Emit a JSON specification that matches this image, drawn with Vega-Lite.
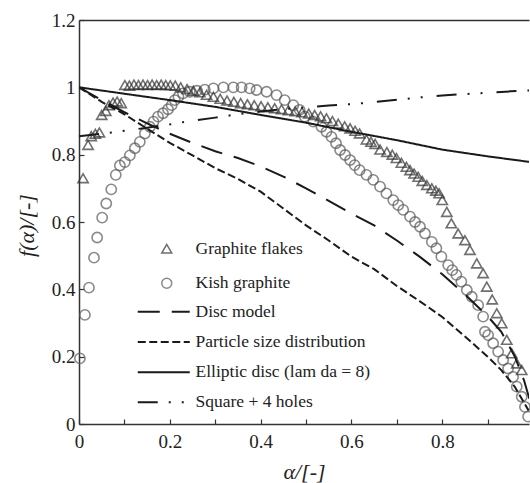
{
  "$schema": "https://vega.github.io/schema/vega-lite/v6.json",
  "autosize": {"type": "none"},
  "padding": {"left": 79, "top": 20, "right": 1, "bottom": 59},
  "width": 450,
  "height": 404,
  "background": "white",
  "config": {
    "view": {"stroke": null},
    "font": "Liberation Serif",
    "axis": {"labelFont": "Liberation Serif", "titleFont": "Liberation Serif"},
    "legend": {"labelFont": "Liberation Serif"}
  },
  "datasets": {
    "points": [
      {"x": 0.002, "y": 0.195, "series": "Kish graphite"},
      {"x": 0.013, "y": 0.324, "series": "Kish graphite"},
      {"x": 0.022, "y": 0.405, "series": "Kish graphite"},
      {"x": 0.033, "y": 0.494, "series": "Kish graphite"},
      {"x": 0.040, "y": 0.554, "series": "Kish graphite"},
      {"x": 0.051, "y": 0.613, "series": "Kish graphite"},
      {"x": 0.060, "y": 0.655, "series": "Kish graphite"},
      {"x": 0.071, "y": 0.697, "series": "Kish graphite"},
      {"x": 0.081, "y": 0.740, "series": "Kish graphite"},
      {"x": 0.090, "y": 0.768, "series": "Kish graphite"},
      {"x": 0.101, "y": 0.778, "series": "Kish graphite"},
      {"x": 0.112, "y": 0.798, "series": "Kish graphite"},
      {"x": 0.123, "y": 0.819, "series": "Kish graphite"},
      {"x": 0.134, "y": 0.838, "series": "Kish graphite"},
      {"x": 0.145, "y": 0.863, "series": "Kish graphite"},
      {"x": 0.156, "y": 0.883, "series": "Kish graphite"},
      {"x": 0.164, "y": 0.898, "series": "Kish graphite"},
      {"x": 0.174, "y": 0.913, "series": "Kish graphite"},
      {"x": 0.185, "y": 0.923, "series": "Kish graphite"},
      {"x": 0.196, "y": 0.935, "series": "Kish graphite"},
      {"x": 0.204, "y": 0.947, "series": "Kish graphite"},
      {"x": 0.211, "y": 0.962, "series": "Kish graphite"},
      {"x": 0.219, "y": 0.972, "series": "Kish graphite"},
      {"x": 0.229, "y": 0.982, "series": "Kish graphite"},
      {"x": 0.244, "y": 0.987, "series": "Kish graphite"},
      {"x": 0.260, "y": 0.990, "series": "Kish graphite"},
      {"x": 0.277, "y": 0.993, "series": "Kish graphite"},
      {"x": 0.296, "y": 0.997, "series": "Kish graphite"},
      {"x": 0.318, "y": 1.000, "series": "Kish graphite"},
      {"x": 0.340, "y": 1.000, "series": "Kish graphite"},
      {"x": 0.358, "y": 1.000, "series": "Kish graphite"},
      {"x": 0.376, "y": 0.997, "series": "Kish graphite"},
      {"x": 0.391, "y": 0.992, "series": "Kish graphite"},
      {"x": 0.413, "y": 0.987, "series": "Kish graphite"},
      {"x": 0.435, "y": 0.977, "series": "Kish graphite"},
      {"x": 0.453, "y": 0.962, "series": "Kish graphite"},
      {"x": 0.472, "y": 0.947, "series": "Kish graphite"},
      {"x": 0.486, "y": 0.933, "series": "Kish graphite"},
      {"x": 0.497, "y": 0.913, "series": "Kish graphite"},
      {"x": 0.516, "y": 0.898, "series": "Kish graphite"},
      {"x": 0.534, "y": 0.883, "series": "Kish graphite"},
      {"x": 0.545, "y": 0.868, "series": "Kish graphite"},
      {"x": 0.556, "y": 0.853, "series": "Kish graphite"},
      {"x": 0.566, "y": 0.834, "series": "Kish graphite"},
      {"x": 0.575, "y": 0.814, "series": "Kish graphite"},
      {"x": 0.586, "y": 0.799, "series": "Kish graphite"},
      {"x": 0.597, "y": 0.784, "series": "Kish graphite"},
      {"x": 0.607, "y": 0.769, "series": "Kish graphite"},
      {"x": 0.618, "y": 0.754, "series": "Kish graphite"},
      {"x": 0.633, "y": 0.740, "series": "Kish graphite"},
      {"x": 0.648, "y": 0.725, "series": "Kish graphite"},
      {"x": 0.663, "y": 0.705, "series": "Kish graphite"},
      {"x": 0.677, "y": 0.685, "series": "Kish graphite"},
      {"x": 0.692, "y": 0.665, "series": "Kish graphite"},
      {"x": 0.703, "y": 0.650, "series": "Kish graphite"},
      {"x": 0.714, "y": 0.636, "series": "Kish graphite"},
      {"x": 0.729, "y": 0.616, "series": "Kish graphite"},
      {"x": 0.740, "y": 0.600, "series": "Kish graphite"},
      {"x": 0.751, "y": 0.586, "series": "Kish graphite"},
      {"x": 0.762, "y": 0.566, "series": "Kish graphite"},
      {"x": 0.777, "y": 0.541, "series": "Kish graphite"},
      {"x": 0.787, "y": 0.522, "series": "Kish graphite"},
      {"x": 0.798, "y": 0.497, "series": "Kish graphite"},
      {"x": 0.813, "y": 0.472, "series": "Kish graphite"},
      {"x": 0.822, "y": 0.457, "series": "Kish graphite"},
      {"x": 0.831, "y": 0.443, "series": "Kish graphite"},
      {"x": 0.842, "y": 0.423, "series": "Kish graphite"},
      {"x": 0.854, "y": 0.398, "series": "Kish graphite"},
      {"x": 0.865, "y": 0.378, "series": "Kish graphite"},
      {"x": 0.879, "y": 0.353, "series": "Kish graphite"},
      {"x": 0.890, "y": 0.319, "series": "Kish graphite"},
      {"x": 0.894, "y": 0.274, "series": "Kish graphite"},
      {"x": 0.901, "y": 0.264, "series": "Kish graphite"},
      {"x": 0.912, "y": 0.240, "series": "Kish graphite"},
      {"x": 0.923, "y": 0.215, "series": "Kish graphite"},
      {"x": 0.934, "y": 0.190, "series": "Kish graphite"},
      {"x": 0.945, "y": 0.165, "series": "Kish graphite"},
      {"x": 0.956, "y": 0.140, "series": "Kish graphite"},
      {"x": 0.964, "y": 0.111, "series": "Kish graphite"},
      {"x": 0.975, "y": 0.081, "series": "Kish graphite"},
      {"x": 0.982, "y": 0.051, "series": "Kish graphite"},
      {"x": 0.989, "y": 0.022, "series": "Kish graphite"},
      {"x": 0.009, "y": 0.730, "series": "Graphite flakes"},
      {"x": 0.020, "y": 0.829, "series": "Graphite flakes"},
      {"x": 0.027, "y": 0.855, "series": "Graphite flakes"},
      {"x": 0.036, "y": 0.862, "series": "Graphite flakes"},
      {"x": 0.045, "y": 0.866, "series": "Graphite flakes"},
      {"x": 0.050, "y": 0.918, "series": "Graphite flakes"},
      {"x": 0.059, "y": 0.930, "series": "Graphite flakes"},
      {"x": 0.066, "y": 0.947, "series": "Graphite flakes"},
      {"x": 0.075, "y": 0.955, "series": "Graphite flakes"},
      {"x": 0.084, "y": 0.958, "series": "Graphite flakes"},
      {"x": 0.093, "y": 0.953, "series": "Graphite flakes"},
      {"x": 0.101, "y": 1.007, "series": "Graphite flakes"},
      {"x": 0.111, "y": 1.005, "series": "Graphite flakes"},
      {"x": 0.121, "y": 1.008, "series": "Graphite flakes"},
      {"x": 0.131, "y": 1.007, "series": "Graphite flakes"},
      {"x": 0.141, "y": 1.008, "series": "Graphite flakes"},
      {"x": 0.151, "y": 1.007, "series": "Graphite flakes"},
      {"x": 0.161, "y": 1.008, "series": "Graphite flakes"},
      {"x": 0.171, "y": 1.007, "series": "Graphite flakes"},
      {"x": 0.181, "y": 1.008, "series": "Graphite flakes"},
      {"x": 0.191, "y": 1.007, "series": "Graphite flakes"},
      {"x": 0.201, "y": 1.006, "series": "Graphite flakes"},
      {"x": 0.212, "y": 1.005, "series": "Graphite flakes"},
      {"x": 0.224, "y": 1.000, "series": "Graphite flakes"},
      {"x": 0.238, "y": 0.995, "series": "Graphite flakes"},
      {"x": 0.252, "y": 0.990, "series": "Graphite flakes"},
      {"x": 0.266, "y": 0.985, "series": "Graphite flakes"},
      {"x": 0.281, "y": 0.978, "series": "Graphite flakes"},
      {"x": 0.296, "y": 0.972, "series": "Graphite flakes"},
      {"x": 0.311, "y": 0.966, "series": "Graphite flakes"},
      {"x": 0.326, "y": 0.961, "series": "Graphite flakes"},
      {"x": 0.341, "y": 0.957, "series": "Graphite flakes"},
      {"x": 0.356, "y": 0.953, "series": "Graphite flakes"},
      {"x": 0.371, "y": 0.950, "series": "Graphite flakes"},
      {"x": 0.386, "y": 0.947, "series": "Graphite flakes"},
      {"x": 0.401, "y": 0.944, "series": "Graphite flakes"},
      {"x": 0.416, "y": 0.941, "series": "Graphite flakes"},
      {"x": 0.431, "y": 0.938, "series": "Graphite flakes"},
      {"x": 0.446, "y": 0.935, "series": "Graphite flakes"},
      {"x": 0.461, "y": 0.932, "series": "Graphite flakes"},
      {"x": 0.476, "y": 0.929, "series": "Graphite flakes"},
      {"x": 0.491, "y": 0.926, "series": "Graphite flakes"},
      {"x": 0.506, "y": 0.922, "series": "Graphite flakes"},
      {"x": 0.519, "y": 0.918, "series": "Graphite flakes"},
      {"x": 0.532, "y": 0.914, "series": "Graphite flakes"},
      {"x": 0.545, "y": 0.908, "series": "Graphite flakes"},
      {"x": 0.558, "y": 0.900, "series": "Graphite flakes"},
      {"x": 0.571, "y": 0.892, "series": "Graphite flakes"},
      {"x": 0.585, "y": 0.884, "series": "Graphite flakes"},
      {"x": 0.597, "y": 0.878, "series": "Graphite flakes"},
      {"x": 0.608, "y": 0.871, "series": "Graphite flakes"},
      {"x": 0.618, "y": 0.863, "series": "Graphite flakes"},
      {"x": 0.633, "y": 0.845, "series": "Graphite flakes"},
      {"x": 0.643, "y": 0.838, "series": "Graphite flakes"},
      {"x": 0.652, "y": 0.832, "series": "Graphite flakes"},
      {"x": 0.663, "y": 0.815, "series": "Graphite flakes"},
      {"x": 0.678, "y": 0.808, "series": "Graphite flakes"},
      {"x": 0.690, "y": 0.800, "series": "Graphite flakes"},
      {"x": 0.699, "y": 0.790, "series": "Graphite flakes"},
      {"x": 0.710, "y": 0.776, "series": "Graphite flakes"},
      {"x": 0.721, "y": 0.764, "series": "Graphite flakes"},
      {"x": 0.729, "y": 0.754, "series": "Graphite flakes"},
      {"x": 0.738, "y": 0.744, "series": "Graphite flakes"},
      {"x": 0.747, "y": 0.734, "series": "Graphite flakes"},
      {"x": 0.756, "y": 0.722, "series": "Graphite flakes"},
      {"x": 0.766, "y": 0.710, "series": "Graphite flakes"},
      {"x": 0.777, "y": 0.700, "series": "Graphite flakes"},
      {"x": 0.786, "y": 0.693, "series": "Graphite flakes"},
      {"x": 0.793, "y": 0.685, "series": "Graphite flakes"},
      {"x": 0.800, "y": 0.665, "series": "Graphite flakes"},
      {"x": 0.810, "y": 0.630, "series": "Graphite flakes"},
      {"x": 0.820, "y": 0.596, "series": "Graphite flakes"},
      {"x": 0.835, "y": 0.566, "series": "Graphite flakes"},
      {"x": 0.850, "y": 0.546, "series": "Graphite flakes"},
      {"x": 0.861, "y": 0.517, "series": "Graphite flakes"},
      {"x": 0.876, "y": 0.477, "series": "Graphite flakes"},
      {"x": 0.890, "y": 0.448, "series": "Graphite flakes"},
      {"x": 0.898, "y": 0.408, "series": "Graphite flakes"},
      {"x": 0.910, "y": 0.370, "series": "Graphite flakes"},
      {"x": 0.920, "y": 0.329, "series": "Graphite flakes"},
      {"x": 0.931, "y": 0.299, "series": "Graphite flakes"},
      {"x": 0.942, "y": 0.250, "series": "Graphite flakes"},
      {"x": 0.953, "y": 0.210, "series": "Graphite flakes"},
      {"x": 0.964, "y": 0.180, "series": "Graphite flakes"},
      {"x": 0.975, "y": 0.160, "series": "Graphite flakes"}
    ],
    "lines": [
      {"x": 0.0, "y": 1.0, "model": "Disc model"},
      {"x": 0.05, "y": 0.962, "model": "Disc model"},
      {"x": 0.1, "y": 0.926, "model": "Disc model"},
      {"x": 0.15, "y": 0.893, "model": "Disc model"},
      {"x": 0.2, "y": 0.862, "model": "Disc model"},
      {"x": 0.25, "y": 0.835, "model": "Disc model"},
      {"x": 0.3, "y": 0.81, "model": "Disc model"},
      {"x": 0.35, "y": 0.79, "model": "Disc model"},
      {"x": 0.4, "y": 0.765, "model": "Disc model"},
      {"x": 0.45, "y": 0.735, "model": "Disc model"},
      {"x": 0.5, "y": 0.7, "model": "Disc model"},
      {"x": 0.55, "y": 0.663, "model": "Disc model"},
      {"x": 0.6, "y": 0.625, "model": "Disc model"},
      {"x": 0.65, "y": 0.59, "model": "Disc model"},
      {"x": 0.7, "y": 0.545, "model": "Disc model"},
      {"x": 0.75, "y": 0.497, "model": "Disc model"},
      {"x": 0.8, "y": 0.445, "model": "Disc model"},
      {"x": 0.85, "y": 0.385, "model": "Disc model"},
      {"x": 0.9, "y": 0.32, "model": "Disc model"},
      {"x": 0.93, "y": 0.274, "model": "Disc model"},
      {"x": 0.96, "y": 0.2, "model": "Disc model"},
      {"x": 0.98, "y": 0.13, "model": "Disc model"},
      {"x": 0.995, "y": 0.06, "model": "Disc model"},
      {"x": 0.0, "y": 1.0, "model": "Particle size distribution"},
      {"x": 0.05, "y": 0.957, "model": "Particle size distribution"},
      {"x": 0.1, "y": 0.92, "model": "Particle size distribution"},
      {"x": 0.15, "y": 0.877, "model": "Particle size distribution"},
      {"x": 0.2, "y": 0.835, "model": "Particle size distribution"},
      {"x": 0.25, "y": 0.798, "model": "Particle size distribution"},
      {"x": 0.3, "y": 0.76, "model": "Particle size distribution"},
      {"x": 0.35, "y": 0.728, "model": "Particle size distribution"},
      {"x": 0.4, "y": 0.69, "model": "Particle size distribution"},
      {"x": 0.45, "y": 0.64, "model": "Particle size distribution"},
      {"x": 0.5, "y": 0.59, "model": "Particle size distribution"},
      {"x": 0.55, "y": 0.545, "model": "Particle size distribution"},
      {"x": 0.6, "y": 0.497, "model": "Particle size distribution"},
      {"x": 0.65, "y": 0.46, "model": "Particle size distribution"},
      {"x": 0.7, "y": 0.41, "model": "Particle size distribution"},
      {"x": 0.75, "y": 0.365, "model": "Particle size distribution"},
      {"x": 0.8, "y": 0.318, "model": "Particle size distribution"},
      {"x": 0.85, "y": 0.26, "model": "Particle size distribution"},
      {"x": 0.9, "y": 0.2, "model": "Particle size distribution"},
      {"x": 0.93, "y": 0.16, "model": "Particle size distribution"},
      {"x": 0.96, "y": 0.11, "model": "Particle size distribution"},
      {"x": 0.99, "y": 0.04, "model": "Particle size distribution"},
      {"x": 0.0, "y": 1.0, "model": "Elliptic disc (lam da = 8)"},
      {"x": 0.1, "y": 0.981, "model": "Elliptic disc (lam da = 8)"},
      {"x": 0.2, "y": 0.962, "model": "Elliptic disc (lam da = 8)"},
      {"x": 0.3, "y": 0.942, "model": "Elliptic disc (lam da = 8)"},
      {"x": 0.4, "y": 0.918, "model": "Elliptic disc (lam da = 8)"},
      {"x": 0.5, "y": 0.895, "model": "Elliptic disc (lam da = 8)"},
      {"x": 0.6, "y": 0.868, "model": "Elliptic disc (lam da = 8)"},
      {"x": 0.7, "y": 0.843, "model": "Elliptic disc (lam da = 8)"},
      {"x": 0.8, "y": 0.815, "model": "Elliptic disc (lam da = 8)"},
      {"x": 0.9, "y": 0.795, "model": "Elliptic disc (lam da = 8)"},
      {"x": 0.995, "y": 0.778, "model": "Elliptic disc (lam da = 8)"},
      {"x": 0.0, "y": 0.855, "model": "Square + 4 holes"},
      {"x": 0.05, "y": 0.862, "model": "Square + 4 holes"},
      {"x": 0.1, "y": 0.871, "model": "Square + 4 holes"},
      {"x": 0.15, "y": 0.88, "model": "Square + 4 holes"},
      {"x": 0.2, "y": 0.89, "model": "Square + 4 holes"},
      {"x": 0.25, "y": 0.901, "model": "Square + 4 holes"},
      {"x": 0.3, "y": 0.91, "model": "Square + 4 holes"},
      {"x": 0.35, "y": 0.92, "model": "Square + 4 holes"},
      {"x": 0.4, "y": 0.928, "model": "Square + 4 holes"},
      {"x": 0.45, "y": 0.935, "model": "Square + 4 holes"},
      {"x": 0.5, "y": 0.941, "model": "Square + 4 holes"},
      {"x": 0.55, "y": 0.946, "model": "Square + 4 holes"},
      {"x": 0.6, "y": 0.95, "model": "Square + 4 holes"},
      {"x": 0.65, "y": 0.956, "model": "Square + 4 holes"},
      {"x": 0.7, "y": 0.963, "model": "Square + 4 holes"},
      {"x": 0.75, "y": 0.97, "model": "Square + 4 holes"},
      {"x": 0.8, "y": 0.976, "model": "Square + 4 holes"},
      {"x": 0.85, "y": 0.98, "model": "Square + 4 holes"},
      {"x": 0.9, "y": 0.984, "model": "Square + 4 holes"},
      {"x": 0.95, "y": 0.988, "model": "Square + 4 holes"},
      {"x": 0.995, "y": 0.991, "model": "Square + 4 holes"}
    ]
  },
  "layer": [
    {
      "data": {"name": "points"},
      "mark": {"type": "point", "filled": false, "size": 105, "strokeWidth": 1.6},
      "encoding": {
        "x": {"field": "x", "type": "quantitative", "scale": {"domain": [0, 0.991], "nice": false, "zero": false},
          "axis": {"orient": "bottom", "values": [0, 0.1, 0.2, 0.3, 0.4, 0.5, 0.6, 0.7, 0.8, 0.9],
            "labelExpr": "round(datum.value*10) % 2 == 0 ? format(datum.value, '~g') : ''",
            "grid": false, "tickSize": -5, "tickColor": "#333", "tickWidth": 1.2, "labelPadding": 13,
            "domainColor": "#333", "domainWidth": 1.5, "labelFont": "Liberation Serif", "labelFontSize": 19, "labelColor": "#222", "labelFlush": false,
            "title": "α/[-]", "titleFont": "Liberation Serif", "titleFontSize": 22, "titleFontStyle": "italic", "titleFontWeight": "normal", "titleColor": "#222",
            "titleX": 225, "titleY": 47, "titleBaseline": "middle"}},
        "y": {"field": "y", "type": "quantitative", "scale": {"domain": [0, 1.2], "nice": false},
          "axis": {"values": [0, 0.1, 0.2, 0.3, 0.4, 0.5, 0.6, 0.7, 0.8, 0.9, 1.0, 1.1, 1.2],
            "labelExpr": "round(datum.value*10) % 2 == 0 ? format(datum.value, '~g') : ''",
            "grid": false, "tickSize": -5, "tickColor": "#333", "tickWidth": 1.2, "labelPadding": 9,
            "domainColor": "#333", "domainWidth": 1.5, "labelFont": "Liberation Serif", "labelFontSize": 19, "labelColor": "#222", "labelFlush": false,
            "title": "f(α)/[-]", "titleFont": "Liberation Serif", "titleFontSize": 22, "titleFontStyle": "italic", "titleFontWeight": "normal", "titleColor": "#222",
            "titleX": -53, "titleY": 205, "titleBaseline": "middle", "titleAngle": -90}},
        "shape": {"field": "series", "type": "nominal",
          "scale": {"domain": ["Graphite flakes", "Kish graphite"], "range": ["triangle-up", "circle"]},
          "legend": {"orient": "none", "legendX": 79, "legendY": 220, "title": null,
            "symbolSize": 100, "symbolStrokeColor": "#444", "symbolFillColor": "transparent", "symbolStrokeWidth": 1.5,
            "labelFont": "Liberation Serif", "labelFontSize": 17.5, "labelColor": "#222", "labelOffset": 20, "rowPadding": 15.5}},
        "stroke": {"field": "series", "type": "nominal",
          "scale": {"domain": ["Graphite flakes", "Kish graphite"], "range": ["#333", "#5a5a5a"]}, "legend": null}
      }
    },
    {
      "data": {"name": "lines"},
      "mark": {"type": "line", "clip": true, "strokeWidth": 2, "color": "#1a1a1a"},
      "encoding": {
        "x": {"field": "x", "type": "quantitative", "scale": {"domain": [0, 0.991], "nice": false, "zero": false},
          "axis": {"orient": "top", "labels": false, "ticks": false, "grid": false, "title": null, "domainColor": "#333", "domainWidth": 1.5}},
        "y": {"field": "y", "type": "quantitative"},
        "strokeDash": {"field": "model", "type": "nominal",
          "scale": {"domain": ["Disc model", "Particle size distribution", "Elliptic disc (lam da = 8)", "Square + 4 holes"],
                    "range": [[22, 12], [8, 3.5], [1, 0], [20, 11, 2, 11, 2, 14]]},
          "legend": {"orient": "none", "legendX": 76, "legendY": 283, "title": null,
            "symbolType": "M-5.2,0H5.2", "symbolSize": 100, "symbolStrokeColor": "#1a1a1a", "symbolStrokeWidth": 2,
            "labelFont": "Liberation Serif", "labelFontSize": 17.5, "labelColor": "#222", "labelOffset": 23, "rowPadding": 11.2, "labelLimit": 300}}
      }
    }
  ],
  "resolve": {"axis": {"x": "independent"}}
}
